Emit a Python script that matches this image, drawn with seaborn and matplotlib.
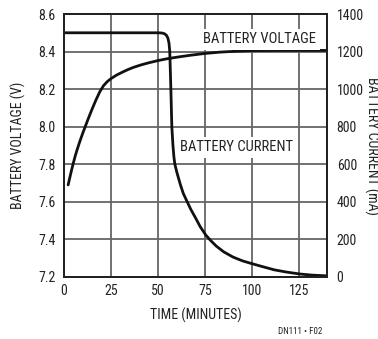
import matplotlib
matplotlib.use("Agg")
import matplotlib.pyplot as plt
import seaborn as sns
import pandas as pd

# values
volt_time = [2.2, 3, 4, 5, 6, 7, 8, 9, 10, 11.2, 13, 15, 17, 19, 21, 23, 25, 28, 31, 34, 37,
             41, 45, 50, 55, 60, 67, 75, 83, 92, 100, 115, 140]
volt_values = [7.69, 7.725, 7.768, 7.808, 7.845, 7.878, 7.909, 7.938, 7.966, 7.998, 8.045, 8.095,
               8.142, 8.185, 8.218, 8.24, 8.256, 8.275, 8.29, 8.304, 8.316, 8.329, 8.34, 8.352,
               8.362, 8.37, 8.38, 8.39, 8.397, 8.402, 8.405, 8.406, 8.406]

curr_time = [0, 20, 40, 50, 52, 53.5, 54.5, 55.3, 55.9, 56.3, 56.6, 56.9, 57.4, 58, 58.5, 59, 60,
             61, 62, 63.5, 65.4, 67.5, 70, 72.5, 75.5, 78, 81, 85, 90, 95, 99, 105, 112, 118,
             125.5, 132, 140]
curr_values = [1300, 1300, 1300, 1300, 1299, 1295, 1287, 1272, 1245, 1200, 1100, 995, 800, 700,
               640, 601, 560, 525, 490, 445, 404, 360, 315, 268, 223, 195, 165, 134, 106, 86, 74,
               57, 38, 27, 16, 10, 6]

x_ticks = [0, 25, 50, 75, 100, 125]
volt_ticks = [7.2, 7.4, 7.6, 7.8, 8.0, 8.2, 8.4, 8.6]
curr_ticks = [0, 200, 400, 600, 800, 1000, 1200, 1400]

volt_df = pd.DataFrame({"time": volt_time, "volt": volt_values})
curr_df = pd.DataFrame({"time": curr_time, "curr": curr_values})

sns.set_theme(style="white")
plt.rcParams['font.family'] = ['Roboto Condensed', 'DejaVu Sans']

fig = plt.figure(figsize=(3.78, 3.39), dpi=100)
ax = fig.add_axes([64 / 378, 62 / 339, 263 / 378, 263 / 339])
ax2 = ax.twinx()

sns.lineplot(data=volt_df, x="time", y="volt", ax=ax, color="#111111", lw=2.0)
sns.lineplot(data=curr_df, x="time", y="curr", ax=ax2, color="#111111", lw=2.0)

ax.set_xlim(0, 140)
ax.set_ylim(7.2, 8.6)
ax2.set_ylim(0, 1400)
ax.set_xticks(x_ticks)
ax.set_yticks(volt_ticks)
ax.set_yticklabels([f"{v:.1f}" for v in volt_ticks])
ax2.set_yticks(curr_ticks)

ax.grid(True, color="#666666", lw=1.3)
for a in (ax, ax2):
    for s in a.spines.values():
        s.set_color("#222222")
        s.set_linewidth(1.4)
    a.tick_params(length=0, labelsize=10, colors="#222222")
ax.tick_params(axis="y", pad=6)
ax.tick_params(axis="x", pad=5)
ax2.tick_params(axis="y", pad=7)

ax.set_xlabel("TIME (MINUTES)", fontsize=10, color="#222222", labelpad=7)
ax.set_ylabel("BATTERY VOLTAGE (V)", fontsize=10, color="#222222", labelpad=9)
ax2.set_ylabel("BATTERY CURRENT (mA)", fontsize=10, color="#222222", rotation=270, labelpad=11)

# curve labels sit on white boxes that hide the grid behind them
box = dict(facecolor="white", edgecolor="none", pad=2.5)
ax2.text(203 / 378, 1 - 39 / 339, "BATTERY VOLTAGE", transform=fig.transFigure, fontsize=10.5,
         color="#222222", va="center", ha="left", bbox=box, zorder=1)
ax2.text(180 / 378, 1 - 147 / 339, "BATTERY CURRENT", transform=fig.transFigure, fontsize=10.5,
         color="#222222", va="center", ha="left", bbox=box, zorder=1)
fig.text(322 / 378, 1 - 331 / 339, "DN111 • F02", fontsize=6.5, color="#222222",
         ha="right", va="center")

fig.savefig("out.png", dpi=100)
